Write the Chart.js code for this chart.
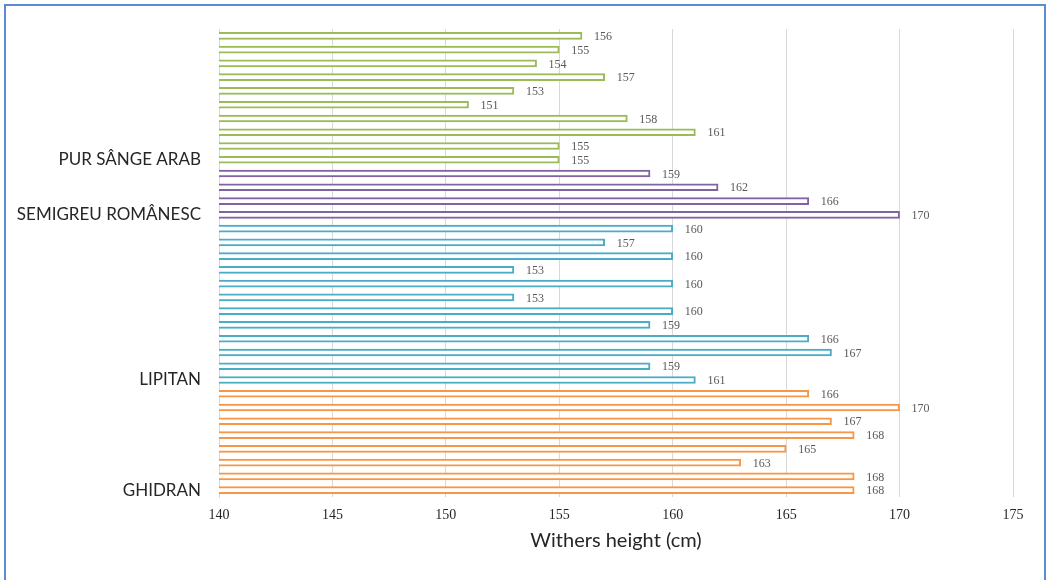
<!DOCTYPE html>
<html>
<head>
<meta charset="utf-8">
<script src="https://cdn.jsdelivr.net/npm/chart.js@4"></script>
<style>
  html, body { margin: 0; padding: 0; background: #fff; overflow: hidden; }
  #wrap { position: absolute; left: 0; top: 0; width: 1047px; height: 580px; }
  #frame { position: absolute; left: 4px; top: 4px; width: 1038px; height: 600px;
           border: 2px solid #5b8bd0; pointer-events: none; }
</style>
</head>
<body>
<div id="wrap"><canvas id="heightChart"></canvas></div>
<div id="frame"></div>
<script>
// --- datos (de arriba hacia abajo) ---
const arabValues     = [156, 155, 154, 157, 153, 151, 158, 161, 155, 155];
const semigreuValues = [159, 162, 166, 170];
const lipitanValues  = [160, 157, 160, 153, 160, 153, 160, 159, 166, 167, 159, 161];
const ghidranValues  = [166, 170, 167, 168, 165, 163, 168, 168];

const groupNames  = ['PUR SÂNGE ARAB', 'SEMIGREU ROMÂNESC', 'LIPITAN', 'GHIDRAN'];
const groupColors = ['#9bbb59', '#8064a2', '#4bacc6', '#f79646'];
const xTicks = [140, 145, 150, 155, 160, 165, 170, 175];

// build labels: group name only on the last bar of each group
const groups = [arabValues, semigreuValues, lipitanValues, ghidranValues];
let labels = [], values = [], colors = [];
groups.forEach((g, gi) => {
  g.forEach((v, i) => {
    labels.push(i === g.length - 1 ? groupNames[gi] : '');
    values.push(v);
    colors.push(groupColors[gi]);
  });
});

// etiquetas de valor a la derecha de cada barra
const valueLabels = {
  id: 'valueLabels',
  afterDatasetsDraw(chart) {
    const ctx = chart.ctx;
    const meta = chart.getDatasetMeta(0);
    ctx.save();
    ctx.font = '12px "Liberation Serif"';
    ctx.fillStyle = '#595959';
    ctx.textAlign = 'left';
    ctx.textBaseline = 'middle';
    meta.data.forEach((bar, i) => {
      ctx.fillText(values[i], bar.x + 12, bar.y + 1);
    });
    ctx.restore();
  }
};

const ctx = document.getElementById('heightChart').getContext('2d');
const heightChart = new Chart(ctx, {
  type: 'bar',
  data: {
    labels: labels,
    datasets: [{
      data: values,
      backgroundColor: '#ffffff',
      borderColor: colors,
      borderWidth: 2,
      borderSkipped: false,
      barThickness: 7
    }]
  },
  options: {
    indexAxis: 'y',
    animation: false,
    responsive: true,
    maintainAspectRatio: false,
    layout: { padding: { top: 29, right: 34, left: 0, bottom: 0 } },
    plugins: { legend: { display: false }, tooltip: { enabled: false } },
    scales: {
      x: {
        min: 140, max: 175,
        afterBuildTicks: s => { s.ticks = xTicks.map(v => ({ value: v })); },
        afterFit: s => { s.height = 83; },
        grid: { color: '#d9d9d9', drawTicks: false },
        border: { display: false },
        ticks: { color: '#262626', padding: 10, font: { family: 'Liberation Serif', size: 14 } },
        title: {
          display: true, text: 'Withers height (cm)', color: '#262626',
          font: { family: 'Lato', size: 20 }, padding: { top: 0, bottom: 27 }
        }
      },
      y: {
        afterFit: s => { s.width = 219; },
        grid: { display: false, drawTicks: false },
        border: { display: true, color: '#d9d9d9' },
        ticks: {
          autoSkip: false, color: '#262626', padding: 18,
          font: { family: 'Lato', size: 17 }
        }
      }
    }
  },
  plugins: [valueLabels]
});
</script>
</body>
</html>
